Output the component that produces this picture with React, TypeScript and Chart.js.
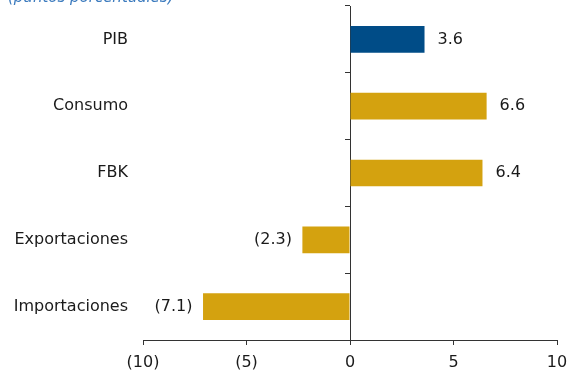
import React, { useEffect, useRef } from "react";
import { Chart, registerables } from "chart.js";

Chart.register(...registerables);

const categories = ["PIB", "Consumo", "FBK", "Exportaciones", "Importaciones"];
const values = [3.6, 6.6, 6.4, -2.3, -7.1];
const xTicks = [-10, -5, 0, 5, 10];
const titleText = "(puntos porcentuales)";

const BLUE = "#004C87";
const GOLD = "#D4A20F";
const TEXT = "#1a1a1a";
const AXIS = "#333333";
const FONT = "'DejaVu Sans', Verdana, sans-serif";

const fmt = (v: number, digits: number) =>
  v < 0 ? `(${Math.abs(v).toFixed(digits)})` : v.toFixed(digits);

const valueLabels = {
  id: "valueLabels",
  afterDatasetsDraw(chart: any) {
    const ctx = chart.ctx;
    const meta = chart.getDatasetMeta(0);
    const data = chart.data.datasets[0].data as number[];
    ctx.save();
    ctx.font = `16px ${FONT}`;
    ctx.fillStyle = TEXT;
    ctx.textBaseline = "middle";
    meta.data.forEach((el: any, i: number) => {
      const v = data[i];
      if (v >= 0) {
        ctx.textAlign = "left";
        ctx.fillText(fmt(v, 1), el.x + 13, el.y);
      } else {
        ctx.textAlign = "right";
        ctx.fillText(fmt(v, 1), el.x - 10.5, el.y);
      }
    });
    ctx.restore();
  },
};

export default function App() {
  const ref = useRef<HTMLCanvasElement>(null);

  useEffect(() => {
    if (!ref.current) return;
    const chart = new Chart(ref.current, {
      type: "bar",
      data: {
        labels: categories,
        datasets: [
          {
            data: values,
            yAxisID: "y",
            backgroundColor: (c: any) => (categories[c.dataIndex] === "PIB" ? BLUE : GOLD),
            borderWidth: 0,
            barPercentage: 0.4,
            categoryPercentage: 1,
          },
        ],
      },
      options: {
        indexAxis: "y",
        responsive: false,
        animation: false,
        events: [],
        layout: { padding: { left: 8, right: 11, top: 6, bottom: 0 } },
        plugins: {
          legend: { display: false },
          tooltip: { enabled: false },
          title: { display: false },
        },
        scales: {
          x: {
            type: "linear",
            position: "bottom",
            min: -10,
            max: 10,
            afterBuildTicks: (s: any) => {
              s.ticks = xTicks.map((v) => ({ value: v }));
            },
            afterFit: (s: any) => {
              s.height = 33;
              s.paddingLeft = 0;
              s.paddingRight = 0;
            },
            grid: {
              drawOnChartArea: false,
              drawTicks: true,
              tickLength: 5,
              color: AXIS,
            },
            border: { display: true, color: AXIS },
            ticks: {
              padding: 8,
              color: TEXT,
              font: { family: FONT, size: 16 },
              maxRotation: 0,
              callback: (v: any) => fmt(Number(v), 0),
            },
          },
          y: {
            type: "category",
            position: "left",
            offset: true,
            afterFit: (s: any) => {
              s.width = 135;
              s.paddingTop = 0;
              s.paddingBottom = 0;
            },
            grid: { display: false, drawTicks: false },
            border: { display: false },
            ticks: {
              padding: 15,
              color: TEXT,
              font: { family: FONT, size: 16 },
            },
          },
          y2: {
            type: "category",
            axis: "y",
            position: { x: 0 } as any,
            offset: true,
            grid: {
              offset: true,
              drawOnChartArea: false,
              drawTicks: true,
              tickLength: 5,
              color: AXIS,
            },
            border: { display: true, color: AXIS },
            ticks: { display: false },
          },
        },
      } as any,
      plugins: [valueLabels],
    });
    return () => chart.destroy();
  }, []);

  return (
    <div
      style={{
        position: "absolute",
        left: 0,
        top: 0,
        width: 568,
        height: 373,
        overflow: "hidden",
      }}
    >
      <canvas ref={ref} width={568} height={373} style={{ display: "block" }} />
      <span
        style={{
          position: "absolute",
          left: 8,
          top: -12,
          fontFamily: FONT,
          fontSize: 15,
          lineHeight: "18px",
          fontStyle: "italic",
          color: "#3C7BBE",
          whiteSpace: "nowrap",
        }}
      >
        {titleText}
      </span>
    </div>
  );
}
